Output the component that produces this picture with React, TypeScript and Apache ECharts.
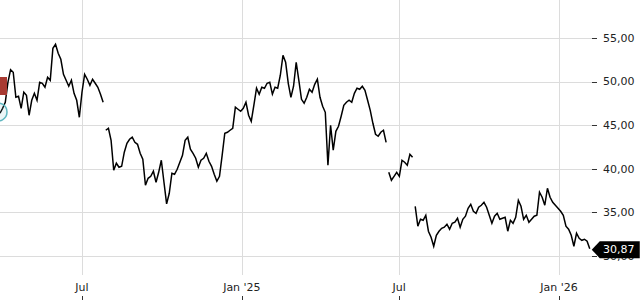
import React, { useEffect, useRef } from 'react';
import * as echarts from 'echarts';

// time frame of the plot (x axis)
const X_START = '2024-03-28T14:24:00Z';
const X_END = '2026-02-08T00:00:00Z';
const SAMPLE_STEP_DAYS = 3.044;

// price readings, one every SAMPLE_STEP_DAYS
const prices: number[] = [
  // segment 1
  46.40, 46.97, 47.66, 49.95, 51.40, 51.10, 48.23, 48.35, 46.97, 48.81,
  48.46, 46.17, 47.89, 48.69, 47.89, 49.95, 49.84, 49.38, 50.53, 50.18,
  53.85, 54.31, 53.28, 52.59, 50.87, 50.18, 49.50, 50.18, 48.69, 47.89,
  45.94, 48.81, 50.87, 50.30, 49.61, 50.30, 49.84, 49.38, 48.58, 47.66,
  // segment 2
  44.45, 44.68, 43.30, 39.86, 40.67, 40.21, 40.32, 41.93, 42.96, 43.42,
  43.65, 43.07, 42.84, 41.81, 41.12, 38.14, 38.94, 39.17, 39.75, 38.49,
  39.63, 41.01, 38.49, 36.00, 37.22, 39.52, 39.40, 39.98, 40.78, 41.58,
  43.30, 43.65, 42.27, 41.81, 41.24, 40.21, 41.01, 41.24, 41.81, 40.89,
  40.32, 39.40, 38.60, 39.17, 41.58, 44.11, 44.22, 44.45, 44.68, 47.09,
  46.86, 46.63, 46.97, 47.66, 46.17, 45.48, 47.32, 49.27, 48.58, 49.38,
  49.27, 49.84, 49.95, 48.58, 49.38, 49.27, 50.76, 53.05, 52.25, 49.84,
  48.23, 49.50, 52.25, 50.18, 48.00, 47.55, 48.23, 49.15, 48.81, 49.72,
  50.30, 48.23, 47.20, 46.51, 40.44, 45.02, 42.16, 44.33, 44.91, 46.06,
  47.32, 47.66, 47.89, 47.66, 48.69, 49.27, 49.15, 49.50, 49.04, 47.89,
  46.74, 45.25, 43.99, 43.76, 44.22, 44.45, 43.07,
  // segment 3
  39.63, 38.72, 39.17, 39.63, 39.17, 41.01, 40.78, 40.44, 41.70, 41.35,
  // segment 4
  35.73, 33.44, 34.24, 34.13, 34.70, 32.87, 32.18, 31.15, 32.41, 32.87,
  33.21, 33.33, 33.67, 33.10, 33.78, 33.90, 34.36, 33.33, 34.24, 34.59,
  35.50, 35.96, 35.16, 34.93, 35.62, 35.85, 36.19, 35.62, 34.70, 33.78,
  34.59, 34.93, 34.24, 34.36, 34.47, 32.87, 34.13, 33.78, 34.47, 36.42,
  35.73, 34.24, 34.70, 33.90, 34.24, 34.59, 34.70, 37.34, 36.77, 35.85,
  37.80, 36.77, 36.19, 35.85, 35.50, 35.16, 34.70, 33.44, 33.10, 32.41,
  31.15, 32.64, 32.06, 31.83, 31.95, 31.72, 30.87,
];

// index in prices where each unconnected segment starts
const segmentStarts = [0, 40, 147, 157];

const xTickDates = ['2024-07-01', '2025-01-01', '2025-07-01', '2026-01-01'];
const xTickLabels = ['Jul', "Jan '25", 'Jul', "Jan '26"];
const yTicks = [30, 35, 40, 45, 50, 55];
const Y_MIN = 27.85;
const Y_MAX = 59.39;
const lastPrice = 30.87;

const fmt = (v: number) => v.toFixed(2).replace('.', ',');

export default function App() {
  const ref = useRef<HTMLDivElement>(null);

  useEffect(() => {
    if (!ref.current) return;
    const chart = echarts.init(ref.current, undefined, { renderer: 'svg' });
    const t0 = Date.parse(X_START);
    const tEnd = Date.parse(X_END);
    const dayMs = 86400000;
    const timeAt = (i: number) => t0 + i * SAMPLE_STEP_DAYS * dayMs;
    const xTicks = xTickDates.map((d) => Date.parse(d + 'T00:00:00Z'));
    const labelFor = (v: number) => {
      let best = 0;
      let bd = Infinity;
      xTicks.forEach((t, k) => {
        const d = Math.abs(t - v);
        if (d < bd) { bd = d; best = k; }
      });
      return xTickLabels[best];
    };

    const series: any[] = segmentStarts.map((s, k) => {
      const e = k + 1 < segmentStarts.length ? segmentStarts[k + 1] : prices.length;
      const data = prices.slice(s, e).map((v, j) => [timeAt(s + j), v]);
      const isLast = k === segmentStarts.length - 1;
      const ser: any = {
        type: 'line',
        data,
        showSymbol: false,
        symbol: 'none',
        lineStyle: { color: '#000', width: 1.5, join: 'miter', miterLimit: 4 },
        itemStyle: { color: '#000' },
        silent: true,
        xAxisIndex: 0,
        yAxisIndex: 0,
      };
      if (isLast) {
        ser.markPoint = {
          silent: true,
          symbol: 'path://M0,8L8,0L48,0L48,16L8,16Z',
          symbolSize: [48, 17],
          symbolKeepAspect: false,
          symbolOffset: [26, 1],
          itemStyle: { color: '#000' },
          label: {
            show: true,
            position: 'inside',
            offset: [3, 0],
            color: '#fff',
            fontSize: 11,
            fontFamily: 'DejaVu Sans',
            formatter: () => fmt(lastPrice),
          },
          data: [{ coord: [timeAt(prices.length - 1), lastPrice] }],
        };
      }
      return ser;
    });

    chart.setOption({
      animation: false,
      backgroundColor: '#fff',
      grid: { left: 0, right: 48, top: 0, bottom: 25, containLabel: false, outerBoundsMode: 'none' },
      xAxis: [
        {
          type: 'value',
          min: t0,
          max: tEnd,
          axisLine: { show: false },
          axisTick: { show: false, customValues: xTicks },
          axisLabel: {
            customValues: xTicks,
            formatter: (v: number) => labelFor(v),
            fontFamily: 'DejaVu Sans',
            fontSize: 11,
            color: '#222',
            margin: 7,
            hideOverlap: false,
          },
          splitLine: { show: true, lineStyle: { color: '#dcdcdc', width: 1 } },
        },
        {
          type: 'value',
          min: t0,
          max: tEnd,
          position: 'bottom',
          offset: 21,
          axisLine: { show: false },
          axisTick: { show: true, length: 4, customValues: xTicks, lineStyle: { color: '#333' } },
          axisLabel: { show: false, customValues: xTicks },
          splitLine: { show: false },
        },
      ],
      yAxis: {
        type: 'value',
        position: 'right',
        min: Y_MIN,
        max: Y_MAX,
        axisLine: { show: false },
        axisTick: { show: true, length: 5, customValues: yTicks, lineStyle: { color: '#333' } },
        axisLabel: {
          customValues: yTicks,
          formatter: (v: number) => fmt(v),
          fontFamily: 'DejaVu Sans',
          fontSize: 11,
          color: '#222',
          margin: 11,
        },
        splitLine: { show: true, lineStyle: { color: '#dcdcdc', width: 1 } },
      },
      graphic: [
        { type: 'rect', shape: { x: 0, y: 77, width: 7, height: 18 }, style: { fill: '#a83a32' }, z: 10 },
        {
          type: 'circle',
          shape: { cx: -2, cy: 112, r: 9 },
          style: { fill: 'rgba(95,183,192,0.12)', stroke: '#5fb7c0', lineWidth: 1.5 },
          z: 10,
        },
      ],
      series,
    });
    return () => chart.dispose();
  }, []);

  return (
    <div
      ref={ref}
      style={{ position: 'fixed', left: 0, top: 0, width: 640, height: 300, background: '#fff' }}
    />
  );
}
